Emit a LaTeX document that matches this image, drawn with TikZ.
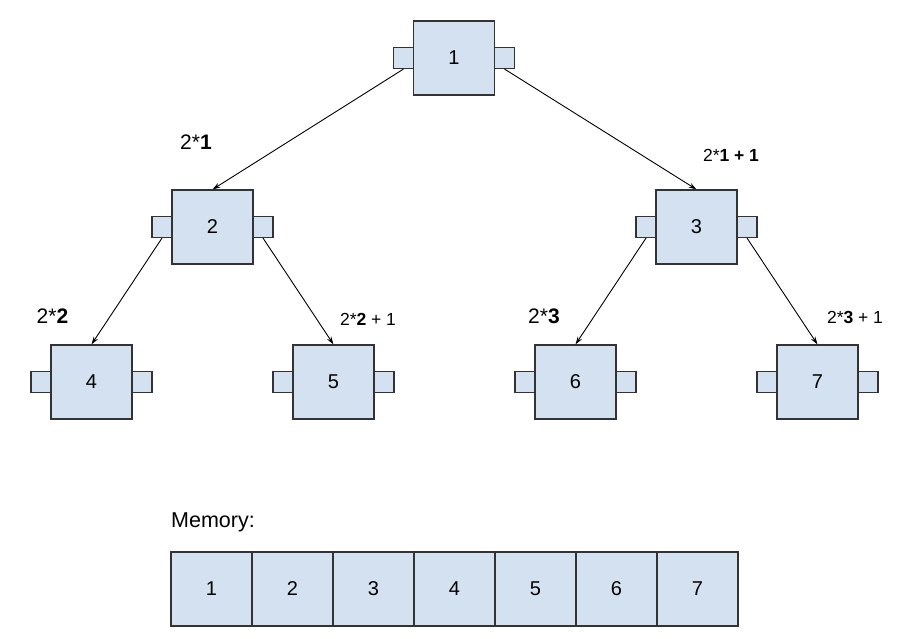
\documentclass[tikz,border=0pt]{standalone}
\usepackage{fontspec}
\setmainfont{Liberation Sans}
\usetikzlibrary{arrows.meta}
\definecolor{boxfill}{HTML}{D3E1F1}
\definecolor{boxline}{HTML}{333333}
\newcommand\tnode[3]{%
  \node[tabbox] (t#1l) at (#2-50.5,#3) {};
  \node[tabbox] (t#1r) at (#2+50.5,#3) {};
  \node[mainbox] (t#1) at (#2,#3) {#1};
}
\begin{document}
\begin{tikzpicture}[x=1pt,y=-1pt,
  mainbox/.style={draw=boxline, fill=boxfill, line width=1.1pt, minimum width=81pt, minimum height=74pt, inner sep=0pt, font=\fontsize{20}{20}\selectfont},
  tabbox/.style={draw=boxline, fill=boxfill, line width=1.1pt, minimum width=20pt, minimum height=21pt, inner sep=0pt},
  cell/.style={draw=boxline, fill=boxfill, line width=1.1pt, minimum width=81pt, minimum height=74pt, inner sep=0pt, font=\fontsize{20}{20}\selectfont},
  edge/.style={-{Stealth[length=8pt,width=5pt]}, line width=0.9pt, draw=black},
  biglbl/.style={font=\fontsize{21}{21}\selectfont, anchor=base, inner sep=0pt},
  smalllbl/.style={font=\fontsize{17.5}{17.5}\selectfont, anchor=base, inner sep=0pt}]
\fill[white] (0,0) rectangle (918,638);
\useasboundingbox (0,0) rectangle (918,638);
\tnode{1}{454}{58}
\tnode{2}{212.5}{227}
\tnode{3}{696.5}{227}
\tnode{4}{91.5}{382}
\tnode{5}{333.5}{382}
\tnode{6}{575.5}{382}
\tnode{7}{817.5}{382}
\draw[edge] (t1l.south) -- (t2.north);
\draw[edge] (t1r.south) -- (t3.north);
\draw[edge] (t2l.south) -- (t4.north);
\draw[edge] (t2r.south) -- (t5.north);
\draw[edge] (t3l.south) -- (t6.north);
\draw[edge] (t3r.south) -- (t7.north);
\node[biglbl] (l2) at (196,149) {2*\textbf{1}};
\node[smalllbl] (l3) at (731,161) {2*\textbf{1 + 1}};
\node[biglbl] (l4) at (52.5,323) {2*\textbf{2}};
\node[smalllbl] (l5) at (368,325) {2*\textbf{2} + 1};
\node[biglbl] (l6) at (544,323) {2*\textbf{3}};
\node[smalllbl] (l7) at (855,323) {2*\textbf{3} + 1};
\node[font=\fontsize{21.5}{21.5}\selectfont, anchor=base west, inner sep=0pt] (mem) at (171,527) {Memory:};
\foreach \i in {1,...,7} {
  \node[cell] (m\i) at ({211.5+81*(\i-1)},589) {\i};
}
\end{tikzpicture}
\end{document}
